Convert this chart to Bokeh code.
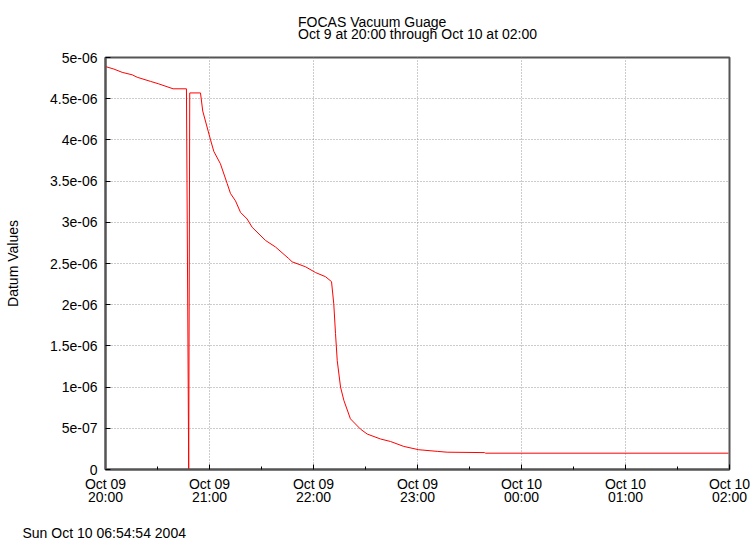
import pandas as pd
from bokeh.plotting import figure
from bokeh.models import (FixedTicker, DatetimeTickFormatter, CustomJSTickFormatter,
                          Title, Range1d, ColumnDataSource)
from bokeh.embed import file_html
from bokeh.resources import INLINE

# ---- data ----
start_time = "2004-10-09 20:00:00"
end_time = "2004-10-10 02:00:00"
minutes_after_start = [0.0, 4.8, 9.6, 15.4, 18.3, 26.0, 30.7, 39.0, 46.7, 48.0, 48.6,
                       54.8, 56.1, 60.6, 62.5, 66.3, 70.2, 72.1, 75.0, 77.9, 81.7,
                       84.6, 92.3, 98.1, 105.7, 107.7, 115.4, 121.2, 126.9, 130.4,
                       131.7, 132.7, 133.7, 135.6, 137.5, 141.3, 147.1, 151.0, 158.7,
                       164.4, 172.1, 180.7, 191.4, 197.1, 218.7, 219.3, 359.4]
datum_values = [4.89e-6, 4.86e-6, 4.82e-6, 4.79e-6, 4.76e-6, 4.71e-6, 4.68e-6, 4.62e-6,
                4.62e-6, 0.0, 4.57e-6, 4.57e-6, 4.35e-6, 4.00e-6, 3.86e-6, 3.71e-6,
                3.47e-6, 3.35e-6, 3.26e-6, 3.12e-6, 3.04e-6, 2.94e-6, 2.78e-6, 2.70e-6,
                2.56e-6, 2.52e-6, 2.46e-6, 2.39e-6, 2.34e-6, 2.28e-6, 2.01e-6, 1.65e-6,
                1.32e-6, 1.00e-6, 0.84e-6, 0.615e-6, 0.49e-6, 0.43e-6, 0.37e-6, 0.34e-6,
                0.28e-6, 0.24e-6, 0.22e-6, 0.21e-6, 0.205e-6, 0.198e-6, 0.198e-6]
x_tick_times = ["2004-10-09 20:00", "2004-10-09 21:00", "2004-10-09 22:00",
                "2004-10-09 23:00", "2004-10-10 00:00", "2004-10-10 01:00",
                "2004-10-10 02:00"]
x_minor_times = ["2004-10-09 20:30", "2004-10-09 21:30", "2004-10-09 22:30",
                 "2004-10-09 23:30", "2004-10-10 00:30", "2004-10-10 01:30"]
y_tick_values = [0.0, 0.5e-6, 1.0e-6, 1.5e-6, 2.0e-6, 2.5e-6, 3.0e-6, 3.5e-6,
                 4.0e-6, 4.5e-6, 5.0e-6]
title_text = "FOCAS Vacuum Guage\nOct 9 at 20:00 through Oct 10 at 02:00"
y_label = "Datum Values"
stamp_text = "Sun Oct 10 06:54:54 2004"

t0 = pd.Timestamp(start_time)
times = [t0 + pd.Timedelta(minutes=m) for m in minutes_after_start]
src = ColumnDataSource(data=dict(t=times, v=datum_values))

def ms(s):
    return pd.Timestamp(s).value / 1e6

FONT = "Liberation Sans"

p = figure(width=756, height=540, output_backend="svg", toolbar_location=None,
           x_axis_type="datetime",
           x_range=Range1d(pd.Timestamp(start_time), pd.Timestamp(end_time)),
           y_range=Range1d(0, 5e-6),
           min_border_left=105, min_border_right=27, min_border_top=57,
           min_border_bottom=71)
p.background_fill_color = "white"
p.border_fill_color = "white"
p.outline_line_color = "#555555"
p.outline_line_width = 2

p.title.text = title_text
p.title.align = "center"
p.title.vertical_align = "top"
p.title.text_font = FONT
p.title.text_font_size = "14px"
p.title.text_font_style = "normal"
p.title.text_color = "black"
p.title.text_line_height = 0.78
p.title.standoff = 27

p.line(x="t", y="v", source=src, line_color="#ff0000", line_width=1)

xt = FixedTicker(ticks=[ms(s) for s in x_tick_times],
                 minor_ticks=[ms(s) for s in x_minor_times])
p.xaxis.ticker = xt
p.xgrid.ticker = xt
fmt = "%b %d\n%H:%M"
p.xaxis.formatter = DatetimeTickFormatter(
    microseconds=fmt, milliseconds=fmt, seconds=fmt, minsec=fmt, minutes=fmt,
    hourmin=fmt, hours=fmt, days=fmt, months=fmt, years=fmt)

yt = FixedTicker(ticks=y_tick_values, minor_ticks=[])
p.yaxis.ticker = yt
p.ygrid.ticker = yt
p.yaxis.formatter = CustomJSTickFormatter(code="""
if (Math.abs(tick) < 1e-15) return "0";
const e = Math.floor(Math.log10(Math.abs(tick)) + 1e-9);
let m = tick / Math.pow(10, e);
m = Math.round(m * 1000) / 1000;
const es = (e < 0 ? "-" : "+") + String(Math.abs(e)).padStart(2, "0");
return m + "e" + es;
""")
p.yaxis.axis_label = y_label

for ax in (p.xaxis[0], p.yaxis[0]):
    ax.axis_line_color = "#555555"
    ax.axis_line_width = 2
    ax.major_tick_in = 5
    ax.major_tick_out = 0
    ax.major_tick_line_color = "black"
    ax.minor_tick_in = 3
    ax.minor_tick_out = 0
    ax.minor_tick_line_color = "black"
    ax.major_label_text_font = FONT
    ax.major_label_text_font_size = "14px"
    ax.major_label_text_color = "black"
    ax.axis_label_text_font = FONT
    ax.axis_label_text_font_size = "14px"
    ax.axis_label_text_font_style = "normal"
    ax.axis_label_text_color = "black"

p.xaxis.major_label_standoff = 6
p.xaxis.major_label_text_line_height = 0.86
# blank x-axis label acts as a small spacer above the timestamp line
p.xaxis.axis_label = " "
p.xaxis.axis_label_text_font_size = "10px"
p.xaxis.axis_label_standoff = 0
p.yaxis.major_label_standoff = 8
p.yaxis.axis_label_standoff = 26

for g in (p.xgrid[0], p.ygrid[0]):
    g.grid_line_color = "#999999"
    g.grid_line_dash = "1 2"
    g.grid_line_width = 1

p.add_layout(Title(text=stamp_text, align="left", offset=-83, standoff=0,
                   text_font=FONT, text_font_size="14px", text_font_style="normal",
                   text_color="black"), "below")

open("out.html", "w").write(file_html(p, INLINE))
